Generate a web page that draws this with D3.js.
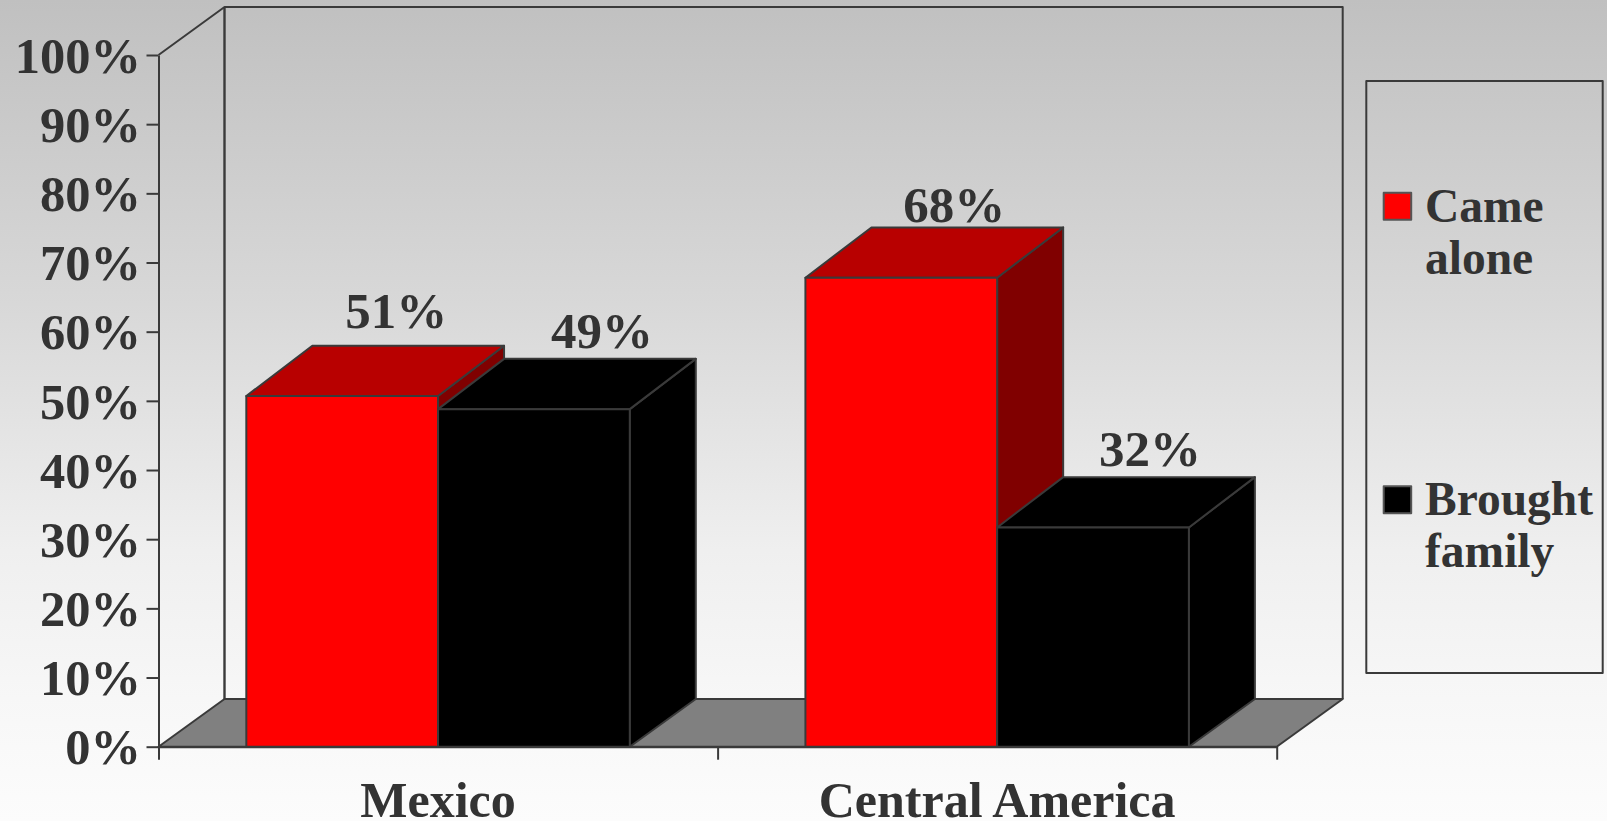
<!DOCTYPE html>
<html>
<head>
<meta charset="utf-8">
<script src="https://cdn.jsdelivr.net/npm/d3@7"></script>
<style>
  html, body { margin: 0; padding: 0; background: #fff; }
  svg { display: block; }
  text { font-family: "Liberation Serif", serif; font-weight: bold; fill: #333; font-size: 47.5px; }
  .edge { stroke: #3a3a3a; stroke-width: 2; stroke-linejoin: round; }
</style>
</head>
<body>
<svg width="1607" height="821"></svg>
<script>
const categories = ['Mexico', 'Central America'];
const seriesNames = [['Came', 'alone'], ['Brought', 'family']];
const cameAlone = [50.7, 67.8];
const broughtFamily = [48.8, 31.7];
const cameLabels = ['51%', '68%'];
const broughtLabels = ['49%', '32%'];
const yTicks = [0, 10, 20, 30, 40, 50, 60, 70, 80, 90, 100];

// hand placed labels in the original, so offsets from the bar's front top centre
const labelShift = [[54, -68], [68, -61], [53, -56], [57, -61]];

const svg = d3.select('svg');
const depthX = 66, depthY = 47.7, topDepthY = 50.3;
const plotLeft = 158.5, plotRight = 1276.7, plotTop = 55, plotBottom = 746.7;

const defs = svg.append('defs');
const grad = defs.append('linearGradient').attr('id', 'bg')
  .attr('x1', 0).attr('y1', 0).attr('x2', 0).attr('y2', 1);
[[0, '#c0c0c0'], [0.37, '#d8d8d8'], [0.67, '#efefef'], [0.85, '#f7f7f7'], [1, '#fcfcfc']].forEach(s => {
  grad.append('stop').attr('offset', s[0]).attr('stop-color', s[1]);
});
svg.append('rect').attr('width', 1607).attr('height', 821).attr('fill', 'url(#bg)');

const xscale = d3.scaleBand().domain(categories).range([plotLeft, plotRight]);
const yscale = d3.scaleLinear().domain([0, 100]).range([plotBottom, plotTop]);
const inner = d3.scaleBand().domain([0, 1]).range([0, xscale.bandwidth()]).paddingOuter(0.458).paddingInner(0);

const poly = d3.line().curve(d3.curveLinearClosed);

// back wall and side wall
svg.append('path').attr('class', 'edge').attr('fill', 'none')
  .attr('d', d3.line()([[plotLeft, plotTop], [plotLeft + depthX, plotTop - depthY - 0.3], [plotRight + depthX, plotTop - depthY - 0.3], [plotRight + depthX, plotBottom - depthY]]));
svg.append('line').attr('class', 'edge').style('stroke-width', 2.4)
  .attr('x1', plotLeft + depthX).attr('x2', plotLeft + depthX)
  .attr('y1', plotTop - depthY).attr('y2', plotBottom - depthY);

// floor
svg.append('path').attr('class', 'edge').attr('fill', '#808080')
  .attr('d', poly([[plotLeft, plotBottom], [plotLeft + depthX, plotBottom - depthY], [plotRight + depthX, plotBottom - depthY], [plotRight, plotBottom]]));

// bars, red first so the black ones sit in front of its side face
const seriesStyle = [
  { values: cameAlone, front: '#ff0000', topFace: '#b80000', side: '#800000' },
  { values: broughtFamily, front: '#000000', topFace: '#000000', side: '#000000' }
];
categories.forEach((cat, c) => {
  seriesStyle.forEach((s, i) => {
    const x0 = xscale(cat) + inner(i);
    const x1 = x0 + inner.bandwidth();
    const y1 = yscale(s.values[c]);
    const g = svg.append('g').attr('class', 'bar');
    g.append('path').attr('class', 'edge').attr('fill', s.side)
      .attr('d', poly([[x1, plotBottom], [x1, y1], [x1 + depthX, y1 - topDepthY], [x1 + depthX, plotBottom - depthY]]));
    g.append('path').attr('class', 'edge').attr('fill', s.topFace)
      .attr('d', poly([[x0, y1], [x0 + depthX, y1 - topDepthY], [x1 + depthX, y1 - topDepthY], [x1, y1]]));
    g.append('rect').attr('class', 'edge').attr('fill', s.front)
      .attr('x', x0).attr('y', y1).attr('width', x1 - x0).attr('height', plotBottom - y1);
  });
});

// axes
const yAxis = d3.axisLeft(yscale).tickValues(yTicks).tickFormat(d => d + '%')
  .tickSize(12).tickPadding(5.5).tickSizeOuter(0);
const yAxisG = svg.append('g').attr('transform', `translate(${plotLeft},0)`).call(yAxis);
yAxisG.selectAll('text').attr('dy', '0.34em').style('font-size', '50.5px');

const xAxisLine = svg.append('g').attr('transform', `translate(0,${plotBottom})`);
xAxisLine.call(d3.axisBottom(d3.scaleLinear().domain([0, categories.length]).range([plotLeft, plotRight]))
  .tickValues(d3.range(categories.length + 1)).tickFormat('').tickSize(13).tickSizeOuter(0));
const xAxisLabels = svg.append('g').attr('transform', `translate(0,${plotBottom})`);
xAxisLabels.call(d3.axisBottom(xscale).tickSize(0).tickPadding(0));
xAxisLabels.select('.domain').remove();
xAxisLabels.selectAll('text').attr('y', 70).attr('dy', 0).style('font-size', '50px');

svg.selectAll('.domain, .tick line').attr('stroke', '#3a3a3a').attr('stroke-width', 2);

// value labels
const valueLabels = [];
categories.forEach((cat, c) => {
  valueLabels.push({ text: cameLabels[c], x: xscale(cat) + inner(0) + inner.bandwidth() / 2, y: yscale(cameAlone[c]) });
  valueLabels.push({ text: broughtLabels[c], x: xscale(cat) + inner(1) + inner.bandwidth() / 2, y: yscale(broughtFamily[c]) });
});
svg.append('g').selectAll('text').data(valueLabels).join('text')
  .attr('text-anchor', 'middle')
  .style('font-size', '51px')
  .attr('x', (d, i) => d.x + labelShift[i][0])
  .attr('y', (d, i) => d.y + labelShift[i][1])
  .text(d => d.text);

// legend
const legend = svg.append('g');
legend.append('rect').attr('class', 'edge').attr('fill', 'none')
  .attr('x', 1366.3).attr('y', 81).attr('width', 236.4).attr('height', 592);
const legendTop = [192.7, 486.3];
seriesStyle.forEach((s, i) => {
  legend.append('rect').attr('class', 'edge').attr('fill', s.front).style('stroke', '#555')
    .attr('x', 1383.7).attr('y', legendTop[i]).attr('width', 27.5).attr('height', 27);
  const t = legend.append('text').attr('x', 1425).attr('y', legendTop[i] + 29);
  seriesNames[i].forEach((line, k) => {
    t.append('tspan').attr('x', 1425).attr('dy', k ? 52 : 0).text(line);
  });
});
</script>
</body>
</html>
